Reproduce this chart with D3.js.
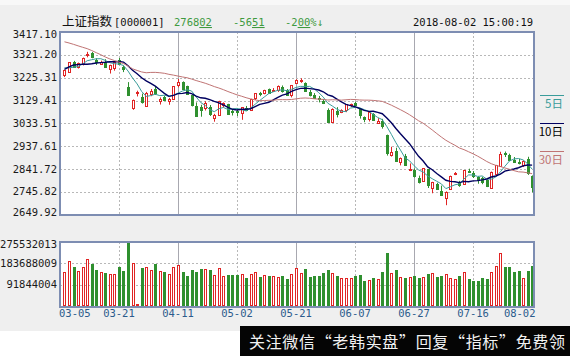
<!DOCTYPE html>
<html><head><meta charset="utf-8">
<script src="https://cdn.jsdelivr.net/npm/d3@7/dist/d3.min.js"></script>
<style>
html,body{margin:0;padding:0;background:#efefef;}
svg{display:block;}
</style></head><body>
<svg id="c" width="570" height="356"></svg>
<script>
// ---------------- data ----------------
const dates = ["03-05","03-06","03-07","03-08","03-09","03-12","03-13","03-14","03-15","03-16","03-19","03-20","03-21","03-22","03-23","03-26","03-27","03-28","03-29","03-30",
"04-02","04-03","04-04","04-09","04-10","04-11","04-12","04-13","04-16","04-17","04-18","04-19","04-20","04-23","04-24","04-25","04-26","04-27",
"05-02","05-03","05-04","05-07","05-08","05-09","05-10","05-11","05-14","05-15","05-16","05-17","05-18","05-21","05-22","05-23","05-24","05-25","05-28","05-29","05-30","05-31",
"06-01","06-04","06-05","06-06","06-07","06-08","06-11","06-12","06-13","06-14","06-15","06-19","06-20","06-21","06-22","06-25","06-26","06-27","06-28","06-29",
"07-02","07-03","07-04","07-05","07-06","07-09","07-10","07-11","07-12","07-13","07-16","07-17","07-18","07-19","07-20","07-23","07-24","07-25","07-26","07-27","07-30","07-31",
"08-01","08-02"];
const open = [3236,3251,3290,3272,3283,3320,3327,3301,3283,3292,3262,3266,3298,3272,3188,3099,3160,3145,3108,3158,
3177,3126,3144,3127,3137,3193,3206,3189,3153,3108,3104,3097,3103,3055,3070,3109,3115,3087,
3087,3076,3098,3091,3141,3162,3162,3177,3168,3173,3188,3174,3151,3205,3210,3205,3165,3155,3140,3128,3092,3041,
3084,3081,3089,3110,3120,3095,3060,3052,3073,3035,3045,2987,2903,2919,2871,2898,2838,2840,2805,2793,
2841,2762,2781,2750,2723,2761,2820,2790,2780,2836,2827,2811,2804,2795,2765,2823,2857,2911,2900,2881,2871,2859,
2883,2814];
const high = [3259,3290,3296,3289,3310,3334,3333,3307,3297,3303,3280,3292,3308,3277,3207,3134,3171,3159,3166,3178,
3187,3143,3150,3141,3190,3220,3210,3192,3154,3122,3112,3127,3111,3074,3129,3122,3116,3093,
3093,3101,3107,3137,3161,3166,3175,3180,3182,3193,3193,3178,3195,3219,3223,3206,3174,3161,3149,3136,3097,3097,
3102,3093,3114,3117,3124,3097,3063,3080,3077,3056,3053,2987,2936,2932,2891,2906,2866,2845,2815,2847,
2841,2789,2785,2773,2749,2815,2830,2793,2837,2844,2834,2812,2810,2799,2832,2860,2915,2916,2907,2893,2885,2878,
2894,2816];
const low = [3228,3249,3267,3264,3277,3311,3307,3279,3279,3268,3243,3255,3278,3249,3152,3091,3147,3117,3106,3148,
3153,3113,3128,3112,3132,3185,3176,3156,3105,3066,3062,3088,3065,3041,3069,3101,3075,3067,
3065,3049,3085,3090,3132,3148,3156,3158,3166,3166,3163,3153,3143,3199,3204,3168,3147,3138,3122,3115,3041,3041,
3059,3077,3081,3103,3107,3054,3039,3042,3049,3033,3012,2899,2895,2873,2858,2857,2834,2807,2782,2790,
2763,2741,2757,2731,2691,2760,2817,2768,2778,2826,2805,2781,2779,2767,2765,2821,2855,2893,2881,2869,2862,2851,
2818,2745];
const close = [3256.93,3289.64,3271.67,3288.41,3307.17,3326.70,3310.24,3291.38,3291.11,3269.88,3279.25,3290.64,3280.95,3263.48,3152.76,3133.72,3166.65,3122.29,3160.53,3168.90,
3163.18,3136.63,3131.11,3138.29,3190.32,3208.08,3180.16,3159.05,3110.65,3066.80,3091.40,3117.38,3071.54,3068.01,3128.93,3117.97,3075.03,3082.23,
3081.18,3100.86,3091.03,3136.65,3161.50,3159.15,3174.41,3163.26,3174.03,3192.12,3169.57,3154.28,3193.30,3213.84,3214.35,3168.96,3154.65,3141.30,3135.08,3120.46,3041.44,3095.47,
3075.14,3091.19,3114.21,3115.18,3109.50,3067.15,3052.78,3079.80,3049.80,3044.16,3021.90,2907.82,2915.73,2875.81,2889.76,2859.34,2844.51,2813.18,2786.90,2847.42,
2775.56,2786.89,2759.13,2733.88,2747.23,2815.11,2827.63,2777.77,2837.66,2831.18,2814.04,2798.13,2787.26,2772.55,2829.27,2859.54,2905.56,2903.65,2882.23,2873.59,2869.05,2876.40,
2824.53,2768.02];
const volume = [148e6,194e6,169e6,152e6,169e6,201e6,179e6,155e6,145e6,144e6,139e6,139e6,169e6,152e6,275532013,184e6,8.6e6,162e6,169e6,155e6,
179e6,151e6,148e6,139e6,169e6,178e6,148e6,131e6,155e6,148e6,159e6,159e6,155e6,133e6,165e6,129e6,133e6,133e6,
133e6,138e6,119e6,138e6,145e6,126e6,133e6,131e6,129e6,126e6,128e6,115e6,138e6,162e6,144e6,159e6,126e6,129e6,129e6,141e6,155e6,144e6,
129e6,119e6,119e6,119e6,129e6,133e6,108e6,112e6,119e6,116e6,148e6,230e6,144e6,155e6,126e6,119e6,126e6,129e6,122e6,126e6,
138e6,144e6,126e6,131e6,138e6,122e6,116e6,131e6,145e6,116e6,109e6,108e6,119e6,116e6,145e6,172e6,230e6,169e6,169e6,148e6,151e6,119e6,
151e6,174e6];
// closes of the 29 sessions before 03-05 (needed for the moving averages)
const priorCloses = [3436.59,3444.67,3474.75,3487.86,3501.36,3546.50,3559.47,3548.31,3558.13,3523.00,3488.01,3480.83,3446.98,3462.08,
3487.50,3370.65,3309.26,3262.05,3129.85,3154.13,3184.96,3199.16,3268.56,3289.02,3329.57,3292.07,3259.41,3273.75,3254.53];
const priceTicks = [3417.10,3321.20,3225.31,3129.41,3033.51,2937.61,2841.72,2745.82,2649.92];
const volumeTicks = [275532013,183688009,91844004];
const dateTicks = ["03-05","03-21","04-11","05-02","05-21","06-07","06-27","07-16","08-02"];
const maPeriods = [5,10,30];
const maLabels = ["5日","10日","30日"];

// ---------------- drawing ----------------
const svg = d3.select("#c");
const RED = "#e02424", GREEN = "#2f902f";
const MAC = ["#3a9c9a","#000060","#c07474"];
const N = dates.length;
const L = 60, R = 534, T = 32, B = 215, VT = 242, VB = 307;

const x = d3.scaleBand().domain(dates).range([62.2, 534.4]);
const xc = d => x(d) + x.bandwidth()/2;
const y = d3.scaleLinear().domain([priceTicks[priceTicks.length-1], priceTicks[0]]).range([B, T]);
const yv = d3.scaleLinear().domain([0, volumeTicks[0]]).range([VB-1, VT]);

svg.append("rect").attr("width",570).attr("height",356).attr("fill","#efefef");
svg.append("rect").attr("x",0).attr("y",0).attr("width",570).attr("height",5).attr("fill","#f8f8f8");

// panels
[[T,B],[VT,VB]].forEach(([t,b])=>{
  svg.append("rect").attr("x",L).attr("y",t).attr("width",R-L).attr("height",b-t).attr("fill","#fff");
});

// grid
const gridIdx = dateTicks.slice(1,-1);
function vgrid(t,b){
  svg.append("g").selectAll("line").data(gridIdx).join("line")
    .attr("x1",d=>Math.round(xc(d))+0.5).attr("x2",d=>Math.round(xc(d))+0.5)
    .attr("y1",t).attr("y2",b)
    .attr("stroke",(d,i)=> i%2 ? "#a8a8b0" : "#b8b8b8")
    .attr("stroke-dasharray",(d,i)=> i%2 ? null : "2,2");
}
vgrid(T,B); vgrid(VT,VB);
svg.append("g").selectAll("line").data(priceTicks.slice(1,-1)).join("line")
  .attr("x1",L).attr("x2",R).attr("y1",d=>Math.round(y(d))+0.5).attr("y2",d=>Math.round(y(d))+0.5)
  .attr("stroke","#b8b8b8").attr("stroke-dasharray","2,2");
svg.append("g").selectAll("line").data(volumeTicks.slice(1)).join("line")
  .attr("x1",L).attr("x2",R).attr("y1",d=>Math.round(yv(d))+0.5).attr("y2",d=>Math.round(yv(d))+0.5)
  .attr("stroke","#b8b8b8").attr("stroke-dasharray","2,2");

// candles
const idx = d3.range(N);
const cg = svg.append("g");
cg.selectAll("line").data(idx).join("line")
  .attr("x1",i=>Math.round(xc(dates[i]))+0.5).attr("x2",i=>Math.round(xc(dates[i]))+0.5)
  .attr("y1",i=>y(high[i])).attr("y2",i=>y(low[i]))
  .attr("stroke",i=> close[i]>=open[i] ? RED : GREEN);
cg.selectAll("rect").data(idx).join("rect")
  .attr("shape-rendering","crispEdges")
  .each(function(i){
    const cx = Math.round(xc(dates[i]));
    const up = close[i] >= open[i];
    const y1 = Math.round(y(Math.max(open[i],close[i])));
    const y2 = Math.round(y(Math.min(open[i],close[i])));
    const h = Math.max(y2-y1,1);
    const s = d3.select(this);
    if(up){ s.attr("x",cx-0.5).attr("y",y1+0.5).attr("width",2).attr("height",h).attr("fill","#fff").attr("stroke",RED).attr("shape-rendering",null); }
    else { s.attr("x",cx-1).attr("y",y1).attr("width",3).attr("height",h+1).attr("fill",GREEN); }
  });

// moving averages
const allCloses = priorCloses.concat(close);
const off = priorCloses.length;
maPeriods.forEach((p,k)=>{
  const vals = idx.map(i => d3.mean(allCloses.slice(off+i-p+1, off+i+1)));
  svg.append("path").datum(vals)
    .attr("d", d3.line().x((d,i)=>xc(dates[i])).y(d=>y(d)))
    .attr("fill","none").attr("stroke",MAC[k]).attr("stroke-width", k===1 ? 1.4 : 1);
});

// volume bars
const vg = svg.append("g");
vg.selectAll("rect").data(idx).join("rect")
  .each(function(i){
    const cx = Math.round(xc(dates[i]));
    const up = close[i] >= open[i];
    const top = Math.round(yv(volume[i]));
    const s = d3.select(this);
    if(up){ s.attr("x",cx-0.5).attr("y",top+0.5).attr("width",2).attr("height",Math.max(VB-1-top-1,1)).attr("fill","#fff").attr("stroke",RED); }
    else { s.attr("x",cx-1).attr("y",top).attr("width",3).attr("height",VB-top).attr("fill",GREEN).attr("shape-rendering","crispEdges"); }
  });

// panel borders
[[T,B],[VT,VB]].forEach(([t,b])=>{
  svg.append("rect").attr("x",L).attr("y",t).attr("width",R-L).attr("height",b-t)
    .attr("fill","none").attr("stroke","#7d8db2").attr("stroke-width",2);
});

// axes
const mono = "'DejaVu Sans Mono', 'Liberation Mono', monospace";
const ya = svg.append("g").attr("transform",`translate(${L-1},0)`)
  .call(d3.axisLeft(y).tickValues(priceTicks).tickSize(0).tickPadding(2).tickFormat(d=>d.toFixed(2)));
ya.select(".domain").remove();
ya.selectAll(".tick").attr("transform",d=>`translate(0,${Math.max(T+3,Math.min(B-2,y(d)))})`);
ya.selectAll("text").attr("font-family",mono).attr("font-size",10.5).attr("fill","#1a1a1a");

const va = svg.append("g").attr("transform",`translate(${L-1},0)`)
  .call(d3.axisLeft(yv).tickValues(volumeTicks).tickSize(0).tickPadding(2).tickFormat(d=>String(d)));
va.select(".domain").remove();
va.selectAll(".tick").attr("transform",d=>`translate(0,${Math.max(VT+3,yv(d))})`);
va.selectAll("text").attr("font-family",mono).attr("font-size",10.5).attr("fill","#1a1a1a");

const xa = svg.append("g").attr("transform",`translate(0,${VB})`)
  .call(d3.axisBottom(x).tickValues(dateTicks).tickSize(0).tickPadding(3));
xa.select(".domain").remove();
xa.selectAll("text").attr("font-family",mono).attr("font-size",10.5).attr("fill","#2b5b8c");
xa.selectAll(".tick").filter(d=>d===dateTicks[0]).select("text").attr("text-anchor","start").attr("x", 59 - xc(dateTicks[0]));
xa.selectAll(".tick").filter(d=>d===dateTicks[dateTicks.length-1]).select("text").attr("text-anchor","end").attr("x", 535.5 - xc(dateTicks[dateTicks.length-1]));

// legend
maLabels.forEach((lab,k)=>{
  const ly = [95,123,151][k];
  svg.append("line").attr("x1",540).attr("x2",564).attr("y1",ly+0.5).attr("y2",ly+0.5).attr("stroke",MAC[k]);
  svg.append("text").attr("x",563).attr("y",ly+13).attr("text-anchor","end")
    .attr("font-family","'Noto Sans CJK SC', sans-serif").attr("font-size",11.5).attr("fill",k===1?"#000":MAC[k]).text(lab);
});

// title
svg.append("text").attr("x",62).attr("y",26).attr("font-family","'Noto Sans CJK SC', sans-serif").attr("font-size",12.5).attr("fill","#111").text("上证指数");
svg.append("text").attr("x",114).attr("y",26).attr("font-family",mono).attr("font-size",10.5).attr("fill","#111").text("[000001]");
function num(xp, a, b, c){
  const t = svg.append("text").attr("x",xp).attr("y",26).attr("font-family",mono).attr("font-size",10.5).attr("fill","#3f9a3f");
  t.append("tspan").text(a);
  t.append("tspan").attr("text-decoration","underline").text(b);
  if(c) t.append("tspan").text(c);
}
num(174,"2768","02");
num(233,"-56","51");
num(285,"-2","00","%↓");
svg.append("text").attr("x",413).attr("y",26).attr("font-family",mono).attr("font-size",10.5).attr("fill","#111").text("2018-08-02 15:00:19");

// bottom banner
svg.append("rect").attr("x",0).attr("y",331).attr("width",570).attr("height",25).attr("fill","#fff");
svg.append("rect").attr("x",240).attr("y",326).attr("width",330).attr("height",30).attr("fill","#050505");
svg.append("text").attr("x",249).attr("y",348).attr("font-family","'Noto Sans CJK SC', sans-serif").attr("font-size",16)
  .attr("textLength",316).attr("lengthAdjust","spacing")
  .attr("fill","#f2f2f2").text("关注微信“老韩实盘”回复“指标”免费领");
</script>
</body></html>
